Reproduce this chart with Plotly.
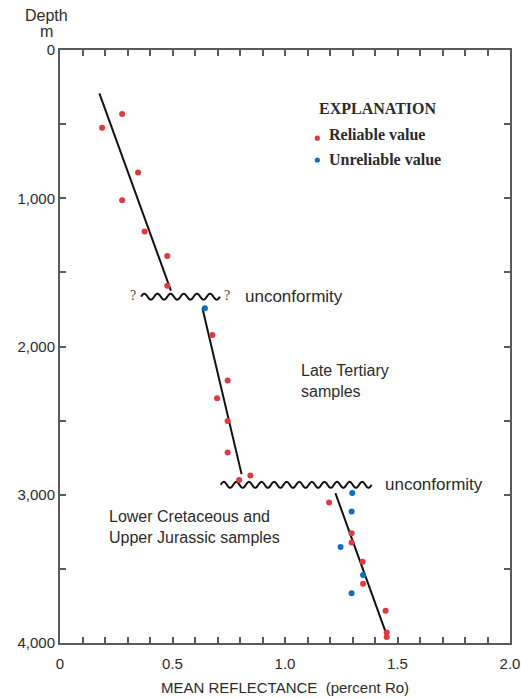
import numpy as np
import plotly.graph_objects as go

# Vitrinite reflectance samples (percent Ro) against depth (m)
reliable_ro = [0.276, 0.187, 0.347, 0.276, 0.376, 0.477, 0.477,
               0.677, 0.745, 0.698, 0.745, 0.745, 0.796, 0.846,
               1.196, 1.296, 1.296, 1.345, 1.347, 1.447, 1.452, 1.452]
reliable_depth = [432, 524, 827, 1013, 1225, 1389, 1591,
                  1922, 2230, 2349, 2502, 2715, 2900, 2870,
                  3053, 3259, 3322, 3452, 3601, 3783, 3929, 3960]

unreliable_ro = [0.644, 1.299, 1.296, 1.247, 1.347, 1.296]
unreliable_depth = [1742, 2989, 3113, 3353, 3542, 3664]

# Fitted trend segments (start, end) for each interval
trend_ro = [[0.175, 0.493], [0.633, 0.807], [1.224, 1.449]]
trend_depth = [[292, 1623], [1742, 2861], [2989, 3933]]

# Unconformities: ro extent and depth
unconf_ro = [[0.360, 0.711], [0.714, 1.385]]
unconf_depth = [1664, 2933]

x_ticks = [round(v * 0.1, 1) for v in range(21)]
x_labels = {0.0: "0", 0.5: "0.5", 1.0: "1.0", 1.5: "1.5", 2.0: "2.0"}
y_ticks = list(range(0, 4001, 500))
y_labels = {0: "0", 1000: "1,000", 2000: "2,000", 3000: "3,000", 4000: "4,000"}

RED = "#e0393e"
BLUE = "#0a6fc2"
TEXT = "#2b2b2b"
AXIS = "#5a5a5a"
SANS = "Liberation Sans, Arial, sans-serif"
SERIF = "Liberation Serif, Times New Roman, serif"

fig = go.Figure()

for xs, ys in zip(trend_ro, trend_depth):
    fig.add_trace(go.Scatter(x=xs, y=ys, mode="lines",
                             line=dict(color="#111111", width=2),
                             hoverinfo="skip", showlegend=False))

# wavy unconformity symbols
for (x0, x1), d in zip(unconf_ro, unconf_depth):
    n_waves = round((x1 - x0) / 0.0565)
    t = np.linspace(0, 1, 600)
    wx = x0 + (x1 - x0) * t
    wy = d - 20 * np.sin(2 * np.pi * n_waves * t)
    fig.add_trace(go.Scatter(x=wx, y=wy, mode="lines",
                             line=dict(color="#111111", width=2, shape="spline"),
                             hoverinfo="skip", showlegend=False))

fig.add_trace(go.Scatter(x=reliable_ro, y=reliable_depth, mode="markers",
                         marker=dict(color=RED, size=6), name="Reliable value",
                         showlegend=False))
fig.add_trace(go.Scatter(x=unreliable_ro, y=unreliable_depth, mode="markers",
                         marker=dict(color=BLUE, size=6), name="Unreliable value",
                         showlegend=False))

annotations = [
    dict(x=1.1436, y=393, text="<b>EXPLANATION</b>", xanchor="left",
         font=dict(family=SERIF, size=16, color=TEXT)),
    dict(x=1.185, y=573, text="<b>Reliable value</b>", xanchor="left",
         font=dict(family=SERIF, size=16, color=TEXT)),
    dict(x=1.185, y=737, text="<b>Unreliable value</b>", xanchor="left",
         font=dict(family=SERIF, size=16, color=TEXT)),
    dict(x=0.324, y=1655, text="?", xanchor="center",
         font=dict(family=SERIF, size=14, color="#444444")),
    dict(x=0.742, y=1655, text="?", xanchor="center",
         font=dict(family=SERIF, size=14, color="#444444")),
    dict(x=0.813, y=1664, text="unconformity", xanchor="left",
         font=dict(family=SANS, size=17, color=TEXT)),
    dict(x=1.434, y=2933, text="unconformity", xanchor="left",
         font=dict(family=SANS, size=17, color=TEXT)),
    dict(x=1.0636, y=2236, text="Late Tertiary<br>samples", xanchor="left",
         align="left", font=dict(family=SANS, size=16, color=TEXT)),
    dict(x=0.207, y=3220, text="Lower Cretaceous and<br>Upper Jurassic samples",
         xanchor="left", align="left", font=dict(family=SANS, size=16, color=TEXT)),
]
for a in annotations:
    a.update(xref="x", yref="y", showarrow=False, yanchor="middle")

# y-axis heading, two stacked lines
for txt, yp in [("Depth", 1.059), ("m", 1.031)]:
    annotations.append(dict(xref="paper", yref="paper", x=-0.029, y=yp,
                            text=txt, showarrow=False,
                            xanchor="center", yanchor="middle",
                            font=dict(family=SANS, size=16, color=TEXT)))
fig.update_layout(annotations=annotations)

# legend dots
for yy, col in [(595, RED), (742, BLUE)]:
    fig.add_shape(type="circle", xref="x", yref="y", xsizemode="pixel",
                  ysizemode="pixel", xanchor=1.1436, yanchor=yy,
                  x0=-2.6, x1=2.6, y0=-2.6, y1=2.6,
                  fillcolor=col, line=dict(width=0))

axis_common = dict(showline=True, linecolor=AXIS, linewidth=2, mirror="ticks",
                   ticks="inside", tickcolor=AXIS, tickwidth=1.5, ticklen=6,
                   showgrid=False, zeroline=False,
                   tickfont=dict(family=SANS, size=15, color=TEXT))

fig.update_xaxes(range=[0, 2], tickvals=x_ticks,
                 ticktext=[x_labels.get(v, "") for v in x_ticks],
                 ticklabelstandoff=6,
                 title=dict(text="MEAN REFLECTANCE\u00a0\u00a0(percent Ro)",
                            font=dict(family=SANS, size=15, color=TEXT),
                            standoff=11),
                 **axis_common)
fig.update_yaxes(range=[4000, 0], tickvals=y_ticks,
                 ticktext=[y_labels.get(v, "") for v in y_ticks],
                 ticklabelstandoff=0,
                 **axis_common)

fig.update_layout(width=521, height=698,
                  margin=dict(l=60, r=11, t=50, b=55, autoexpand=False),
                  paper_bgcolor="white", plot_bgcolor="white")

fig.write_html("out.html")
